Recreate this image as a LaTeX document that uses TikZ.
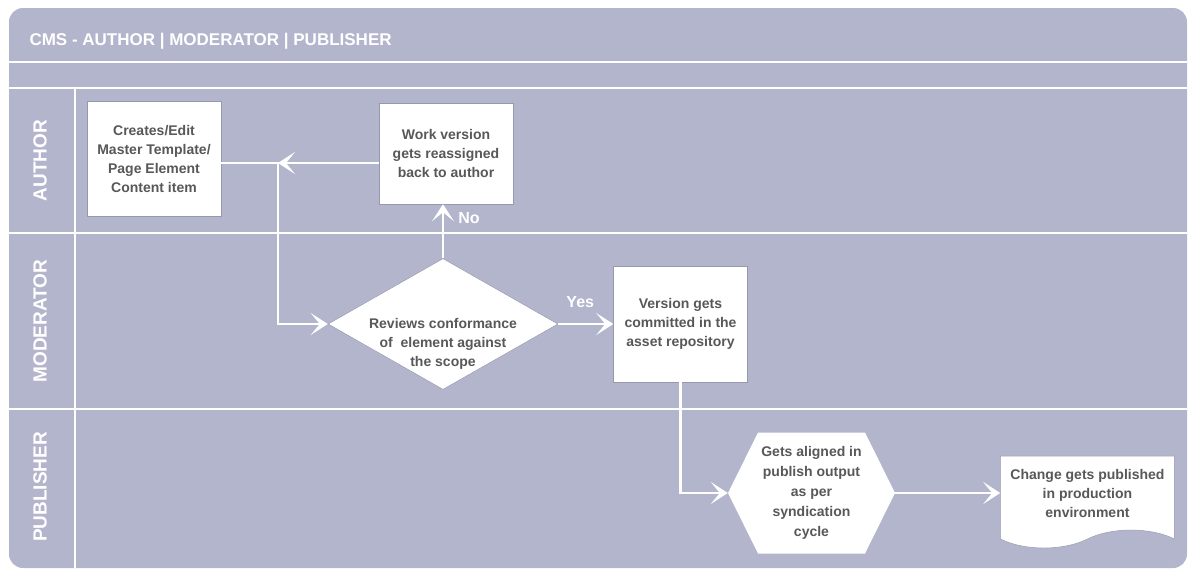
\documentclass[tikz,border=0pt]{standalone}
\usepackage{fontspec}
\setmainfont{Liberation Sans}
\usetikzlibrary{arrows.meta,positioning,shapes.geometric,shapes.symbols}
\definecolor{CmsLilac}{HTML}{B3B5CC}
\definecolor{CmsText}{HTML}{585858}
\definecolor{CmsEdge}{HTML}{9698AE}

\begin{document}
\begin{tikzpicture}[
  x=1pt,y=-1pt,
  caja/.style={rectangle,fill=white,draw=CmsEdge,line width=.5pt,minimum width=134pt,
    align=center,text=CmsText,font=\fontsize{14}{19}\selectfont\bfseries},
  rombo/.style={diamond,fill=white,draw=CmsEdge,line width=.5pt,aspect=2,inner sep=0pt,
    minimum width=230pt,minimum height=131pt,text height=0pt,text depth=0pt,
    text=CmsText,font=\fontsize{14}{19}\selectfont\bfseries},
  hexagono/.style={rectangle,minimum width=167pt,minimum height=121pt,inner sep=0pt,
    align=center,text=CmsText,font=\fontsize{14}{20}\selectfont\bfseries,
    path picture={\fill[white] ([xshift=30pt]path picture bounding box.north west)
      -- ([xshift=-30pt]path picture bounding box.north east) -- (path picture bounding box.east)
      -- ([xshift=-30pt]path picture bounding box.south east)
      -- ([xshift=30pt]path picture bounding box.south west) -- (path picture bounding box.west) -- cycle;}},
  documento/.style={tape,tape bend top=none,tape bend bottom=in and out,tape bend height=18pt,
    fill=white,draw=CmsEdge,line width=.5pt,minimum width=174pt,minimum height=92pt,inner sep=2pt,
    align=center,text=CmsText,font=\fontsize{14}{19}\selectfont\bfseries},
  carril/.style={text=white,rotate=90,font=\fontsize{19}{19}\selectfont\bfseries},
  etiqueta/.style={text=white,inner sep=0pt,font=\fontsize{16}{16}\selectfont\bfseries},
  linea/.style={draw=white,line width=1.8pt},
  flecha/.style={-{Stealth[length=17pt,width=22pt,inset=9pt]},line width=2.5pt,draw=white}
]
\useasboundingbox (0,0) rectangle (1191,574);
\fill[CmsLilac,rounded corners=14pt] (9,8) rectangle (1187,568);
\foreach \y in {62,88,233,409}
  \draw[linea] (9,\y) -- (1187,\y);
\draw[linea] (75,88) -- (75,568);

\node[text=white,anchor=west,font=\fontsize{17}{17}\selectfont\bfseries] (titulo) at (26,41) {CMS - AUTHOR | MODERATOR | PUBLISHER};
\node[carril] (autor) at (40,160.5) {AUTHOR};
\node[carril] (moderador) at (40,321) {MODERATOR};
\node[carril] (editor) at (40,487) {PUBLISHER};

\node[caja,minimum height=115pt] (crear) at (154,158.5) {Creates/Edit\\Master Template/\\Page Element\\Content item};
\node[caja,minimum height=101pt] (reasignar) at (446,153.5) {Work version\\gets reassigned\\back to author};
\node[rombo] (revisar) at (443,324) {\raisebox{-4pt}{\begin{tabular}[t]{@{}c@{}}Reviews conformance\\of~ element against\\the scope\end{tabular}}};
\node[caja,minimum height=116pt,right=55pt of revisar] (confirmar) {Version gets\\committed in the\\asset repository};
\node[hexagono] (alinear) at (811.5,493) {Gets aligned in\\publish output\\as per\\syndication\\cycle};
\node[documento,right=105pt of alinear] (publicar) {Change gets published\\in production\\environment};

\coordinate (cruce) at (278,163);
\draw[flecha] (crear.east |- cruce) -- (cruce) -- (cruce |- revisar) -- (revisar.west);
\draw[flecha] (reasignar.west |- cruce) -- (cruce);
\draw[flecha] (revisar.north) -- node[etiqueta,pos=.75,right=14pt] (no) {No} (revisar.north |- reasignar.south);
\draw[flecha] (revisar.east) -- node[etiqueta,pos=.4,above=15pt] (si) {Yes} (revisar.east -| confirmar.west);
\draw[flecha] (confirmar.south) -- (confirmar.south |- alinear.west) -- (alinear.west);
\draw[flecha] (alinear.east) -- (publicar.west |- alinear.east);
\end{tikzpicture}
\end{document}
